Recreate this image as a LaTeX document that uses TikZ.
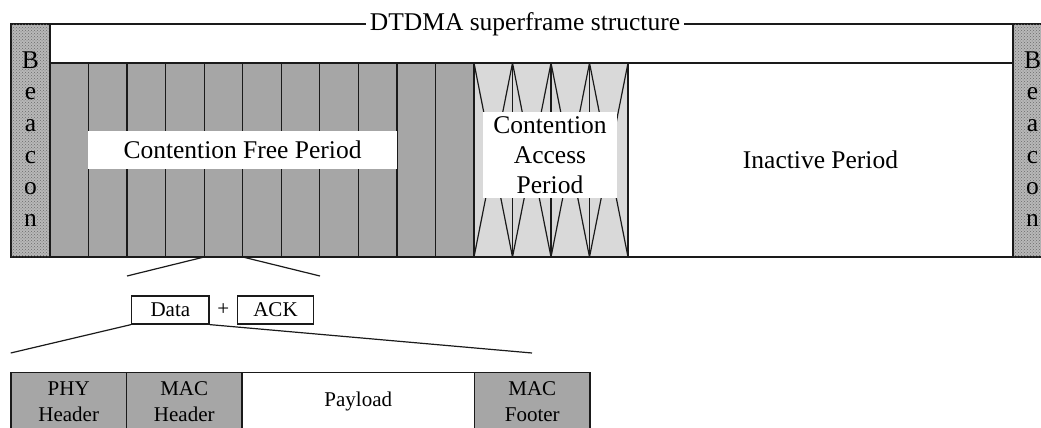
\documentclass[tikz,border=0pt]{standalone}
\usepackage{fontspec}
\setmainfont{Liberation Serif}
\usetikzlibrary{patterns}
\definecolor{cfpgray}{HTML}{A6A6A6}
\definecolor{capgray}{HTML}{D9D9D9}
\definecolor{beacongray}{HTML}{B8B8B8}
\definecolor{beacondots}{HTML}{6A6A6A}
\definecolor{linecol}{HTML}{1A1A1A}
\newcommand{\bigfont}{\fontsize{25.5}{30}\selectfont}
\newcommand{\smallfont}{\fontsize{21}{26.7}\selectfont}
\newcommand{\beaconfont}{\fontsize{25.5}{31.6}\selectfont}
\begin{document}
\begin{tikzpicture}[x=1pt,y=-1pt,
  box/.style={draw=linecol, line width=1.3pt, inner sep=0pt, outer sep=0pt, anchor=north west},
  beaconbox/.style={box, fill=beacongray, postaction={pattern=crosshatch dots, pattern color=beacondots}, minimum width=39, minimum height=233},
  slotbox/.style={box, fill=cfpgray, minimum width=38.545, minimum height=194},
  capbox/.style={box, fill=capgray, minimum width=38.5, minimum height=194},
  label/.style={fill=white, inner sep=0pt, outer sep=0pt, font=\bigfont, align=center},
  pktbox/.style={box, minimum height=58.5, font=\smallfont, align=center},
  conn/.style={draw=linecol, line width=1.2pt}
]
\useasboundingbox (0,0) rectangle (1041,428);
\clip (0,0) rectangle (1041,428);

% beacons
\node[beaconbox] (beaconL) at (11,24) {};
\node[beaconbox] (beaconR) at (1013,24) {};
\node[font=\beaconfont, align=center, inner sep=0pt] (beaconLt) at ([yshift=1.5]beaconL.center) {B\\e\\a\\c\\o\\n};
\node[font=\beaconfont, align=center, inner sep=0pt] (beaconRt) at ([yshift=1.5]beaconR.center) {B\\e\\a\\c\\o\\n};

% top strip
\node[box, fill=white, minimum width=963, minimum height=39] (strip) at (50,24) {};

% contention free slots
\foreach \i in {0,...,10} {
  \node[slotbox] (slot\i) at ({50+38.545*\i},63) {};
}
% contention access cells
\foreach \i in {0,...,3} {
  \node[capbox] (cap\i) at ({474+38.5*\i},63) {};
  \draw[conn] (cap\i.north west) -- (cap\i.south east);
  \draw[conn] (cap\i.north east) -- (cap\i.south west);
}
% inactive period
\node[box, fill=white, minimum width=385, minimum height=194, font=\bigfont] (inact) at (628,63) {Inactive Period};

% labels
\node[label, minimum width=309, minimum height=38] (cfplabel) at (242.5,150) {Contention Free Period};
\node[label, minimum width=134, minimum height=86] (caplabel) at (550,155) {Contention\\Access\\Period};

% title
\node[fill=white, inner xsep=4pt, inner ysep=1pt, font=\bigfont] (title) at (525,24) {DTDMA superframe structure};

% expansion of slot
\coordinate (fl) at (127,276);
\coordinate (fr) at (320,276);
\draw[conn] (slot4.south west) -- (fl);
\draw[conn] (slot4.south east) -- (fr);

% data + ack
\node[draw=linecol, line width=1.2pt, inner sep=0pt, minimum width=77.3, minimum height=28, font=\smallfont] (data) at (170.35,310) {Data};
\node[inner sep=0pt, font=\smallfont] (plus) at (223.3,310) {+};
\node[draw=linecol, line width=1.2pt, inner sep=0pt, minimum width=75.6, minimum height=28, font=\smallfont] (ack) at (275.5,310) {ACK};

\coordinate (dl) at (10.7,353);
\coordinate (dr) at (532,353);
\draw[conn] (data.south west) -- (dl);
\draw[conn] (data.south east) -- (dr);

% packet
\node[pktbox, fill=cfpgray, minimum width=115.5] (phy) at (11,372.5) {PHY\\Header};
\node[pktbox, fill=cfpgray, minimum width=115.5] (machdr) at (126.5,372.5) {MAC\\Header};
\node[pktbox, fill=white, minimum width=232.5] (payload) at (242,372.5) {Payload};
\node[pktbox, fill=cfpgray, minimum width=115.5] (macftr) at (474.5,372.5) {MAC\\Footer};
\end{tikzpicture}
\end{document}
